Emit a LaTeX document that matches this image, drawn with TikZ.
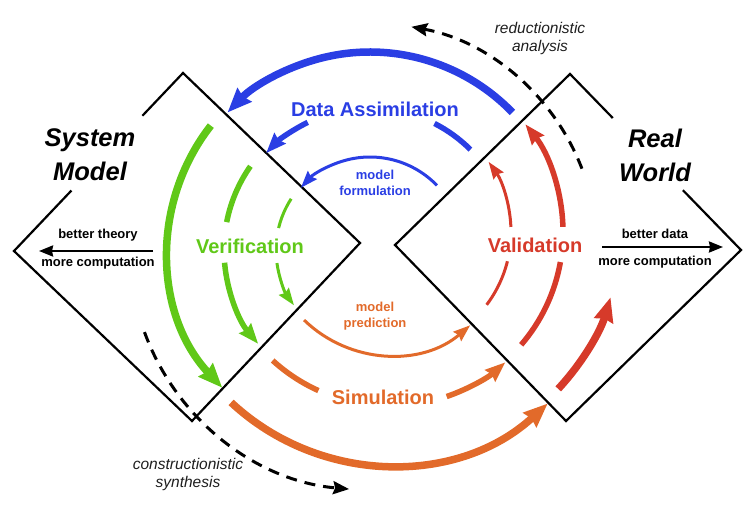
\documentclass[tikz,border=0pt]{standalone}
\usepackage{fontspec}
\setmainfont{Liberation Sans}
\usepackage{tikz}
\usetikzlibrary{arrows.meta,calc}
\definecolor{assimblue}{RGB}{42,62,228}
\definecolor{verigreen}{RGB}{96,200,24}
\definecolor{valired}{RGB}{214,58,42}
\definecolor{simuorange}{RGB}{226,106,42}
\definecolor{notegray}{RGB}{30,30,30}

\begin{document}
\begin{tikzpicture}[x = 1pt, y = 1pt,
    frame/.style = {line width = 2.2pt, black, line join = miter},
    heavy/.style = {line width = 7.5pt},
    medium/.style = {line width = 5.5pt},
    light/.style = {line width = 3pt},
    tipheavy/.style = {-{Stealth[length = 24pt, width = 19pt, inset = 2pt]}},
    tipmedium/.style = {-{Stealth[length = 20pt, width = 15pt, inset = 2pt]}},
    tiplight/.style = {-{Stealth[length = 17pt, width = 12pt, inset = 2pt]}},
    path/.style = {line width = 3pt, black, dash pattern = on 11pt off 8pt, -{Stealth[length = 16pt, width = 13pt, inset = 2pt]}},
    biglabel/.style = {font = \fontsize{20}{24}\selectfont\bfseries},
    smalllabel/.style = {align = center, font = \fontsize{13}{16}\selectfont\bfseries},
    title/.style = {align = center, font = \fontsize{25.5}{34}\selectfont\bfseries\itshape},
    note/.style = {align = center, notegray, font = \fontsize{15.5}{18}\selectfont\itshape}]
    \useasboundingbox (0,0) rectangle (751,507);

    % the two worlds
    \coordinate (sm-top) at (183,434);
    \coordinate (sm-right) at (360,264);
    \coordinate (sm-bottom) at (192,86);
    \coordinate (sm-left) at (14,256);
    \coordinate (rw-top) at (570,433);
    \coordinate (rw-right) at (741,257);
    \coordinate (rw-bottom) at (566,86);
    \coordinate (rw-left) at (395,262);
    \draw[frame] ($(sm-left)!0.34!(sm-top)$) -- (sm-left) -- (sm-bottom) -- (sm-right) -- (sm-top) -- ($(sm-left)!0.76!(sm-top)$);
    \draw[frame] ($(rw-top)!0.25!(rw-right)$) -- (rw-top) -- (rw-left) -- (rw-bottom) -- (rw-right) -- ($(rw-top)!0.66!(rw-right)$);

    % centres of the arcs
    \coordinate (cl) at (370,257);
    \coordinate (cr) at (390,275);

    % data assimilation
    \draw[assimblue, heavy, tipheavy] ([shift = {(44:198)}]cl) arc[start angle = 44, end angle = 136, radius = 198];
    \draw[assimblue, medium] ([shift = {(45:142)}]cl) arc[start angle = 45, end angle = 63, radius = 142];
    \draw[assimblue, medium, tipmedium] ([shift = {(116:142)}]cl) arc[start angle = 116, end angle = 137, radius = 142];
    \draw[assimblue, light, tiplight] ([shift = {(44:93)}]cl) arc[start angle = 44, end angle = 138, radius = 93];

    % verification
    \draw[verigreen, heavy, tipheavy] ([shift = {(142:202)}]cl) arc[start angle = 142, end angle = 223, radius = 202];
    \draw[verigreen, medium] ([shift = {(145:146)}]cl) arc[start angle = 145, end angle = 169, radius = 146];
    \draw[verigreen, medium, tipmedium] ([shift = {(185:146)}]cl) arc[start angle = 185, end angle = 220, radius = 146];
    \draw[verigreen, light] ([shift = {(147:94)}]cl) arc[start angle = 147, end angle = 166.5, radius = 94];
    \draw[verigreen, light, tiplight] ([shift = {(188:94)}]cl) arc[start angle = 188, end angle = 216, radius = 94];

    % validation
    \draw[valired, heavy, tipheavy] ([shift = {(-43:230)}]cr) arc[start angle = -43, end angle = -16.5, radius = 230];
    \draw[valired, medium] ([shift = {(-40.7:173)}]cr) arc[start angle = -40.7, end angle = -10, radius = 173];
    \draw[valired, medium, tipmedium] ([shift = {(1.7:173)}]cr) arc[start angle = 1.7, end angle = 38.5, radius = 173];
    \draw[valired, light] ([shift = {(-37:121)}]cr) arc[start angle = -37, end angle = -14, radius = 121];
    \draw[valired, light, tiplight] ([shift = {(2.4:121)}]cr) arc[start angle = 2.4, end angle = 35.4, radius = 121];

    % simulation
    \draw[simuorange, heavy, tipheavy] ([shift = {(227:233)}]cr) arc[start angle = 227, end angle = 312.6, radius = 233];
    \draw[simuorange, medium] ([shift = {(227.6:174)}]cr) arc[start angle = 227.6, end angle = 245.7, radius = 174];
    \draw[simuorange, medium, tipmedium] ([shift = {(289:174)}]cr) arc[start angle = 289, end angle = 311.5, radius = 174];
    \draw[simuorange, light, tiplight] ([shift = {(225.7:123)}]cr) arc[start angle = 225.7, end angle = 310.7, radius = 123];

    % analysis and synthesis
    \draw[path] ([shift = {(21:227)}]cl) arc[start angle = 21, end angle = 79.5, radius = 227];
    \draw[path] ([shift = {(200:240)}]cl) arc[start angle = 200, end angle = 265, radius = 240];

    % labels
    \node[title] (sysmodel) at (90,352) {System\\Model};
    \node[title] (realworld) at (655,352) {Real\\World};
    \node[biglabel, assimblue] (assim) at (375,398) {Data Assimilation};
    \node[biglabel, verigreen] (verif) at (250,261) {Verification};
    \node[biglabel, valired] (valid) at (535,262) {Validation};
    \node[biglabel, simuorange] (simul) at (383,110) {Simulation};
    \node[smalllabel, assimblue] (formul) at (375,324) {model\\formulation};
    \node[smalllabel, simuorange] (predic) at (375,191) {model\\prediction};
    \node[note] (analysis) at (540,469) {reductionistic\\analysis};
    \node[note] (synthesis) at (188,33) {constructionistic\\synthesis};

    % better theory, better data
    \node[smalllabel] (theory) at (98,272) {better theory};
    \node[smalllabel] (theorycomp) at (98,244) {more computation};
    \node[smalllabel] (data) at (655,273) {better data};
    \node[smalllabel] (datacomp) at (655,245) {more computation};
    \coordinate (theory-from) at (153,256);
    \coordinate (theory-to) at (39,256);
    \coordinate (data-from) at (602,260);
    \coordinate (data-to) at (723,260);
    \draw[line width = 2.4pt, -{Stealth[length = 14pt, width = 11pt, inset = 1pt]}] (theory-from) -- (theory-to);
    \draw[line width = 2.4pt, -{Stealth[length = 14pt, width = 11pt, inset = 1pt]}] (data-from) -- (data-to);
  \end{tikzpicture}
\end{document}
